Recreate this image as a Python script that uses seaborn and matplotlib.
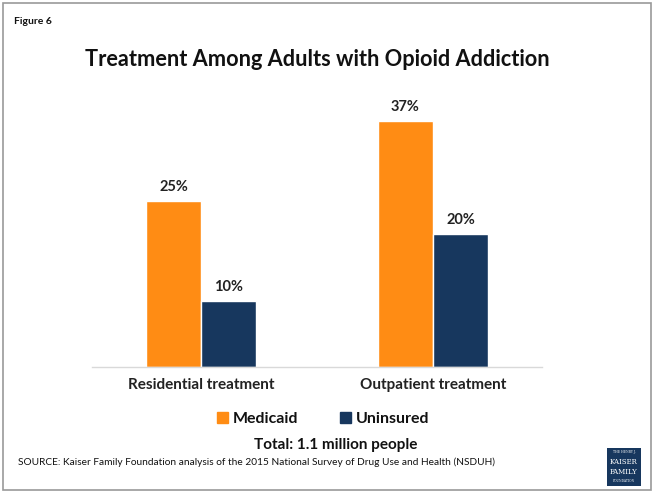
import matplotlib
matplotlib.use("Agg")
import matplotlib.pyplot as plt
import matplotlib.patches as mpatches
import seaborn as sns
import pandas as pd

# chart data
categories = ["Residential treatment", "Outpatient treatment"]
groups = ["Medicaid", "Uninsured"]
medicaid = [25, 37]
uninsured = [10, 20]
colors = ["#FF8C14", "#17375E"]

df = pd.DataFrame({
    "Category": categories * 2,
    "Group": [groups[0]] * 2 + [groups[1]] * 2,
    "Value": medicaid + uninsured,
})

sns.set_theme(style="white")
plt.rcParams["font.family"] = ["Lato", "DejaVu Sans"]

fig = plt.figure(figsize=(6.54, 4.93), dpi=100)
ax = fig.add_axes([92 / 654, 1 - 367 / 493, 450 / 654, 266 / 493])

sns.barplot(data=df, x="Category", y="Value", hue="Group", palette=colors,
            width=0.474, gap=0, saturation=1, ax=ax, legend=False)

ax.set_ylim(0, 40)
ax.set_xlim(-0.47, 1.47)
ax.set_xlabel("")
ax.set_ylabel("")
ax.set_yticks([])
ax.set_xticks([])
for s in ["top", "left", "right"]:
    ax.spines[s].set_visible(False)
ax.spines["bottom"].set_color("#d9d9d9")
ax.spines["bottom"].set_linewidth(1)

# value labels
for cont in ax.containers:
    ax.bar_label(cont, labels=[f"{v:.0f}%" for v in cont.datavalues],
                 padding=5, fontsize=10.5, fontweight="bold", color="#222222")

# category labels
for i, c in enumerate(categories):
    ax.text(i, -2.7, c, ha="center", va="center", fontsize=11,
            fontweight="bold", color="#222222")

# legend
handles = [mpatches.Patch(color=colors[0], label=groups[0]),
           mpatches.Patch(color=colors[1], label=groups[1])]
leg = fig.legend(handles=handles, loc="center", bbox_to_anchor=(323 / 654, 1 - 419 / 493),
                 ncol=2, frameon=False, handlelength=0.7, handleheight=0.7,
                 handletextpad=0.3, columnspacing=2.6, fontsize=11.5)
for t in leg.get_texts():
    t.set_fontweight("bold")
    t.set_color("#111111")

# frame around the figure
fig.patches.append(mpatches.Rectangle((0.004, 0.006), 0.992, 0.988, transform=fig.transFigure,
                                      fill=False, edgecolor="#999999", linewidth=1.2))

fig.text(14 / 654, 1 - 21 / 493, "Figure 6", fontsize=7.5, fontweight="bold",
         ha="left", va="center", color="#111111")
fig.text(317 / 654, 1 - 60 / 493, "Treatment Among Adults with Opioid Addiction",
         fontsize=15.7, fontweight="bold", ha="center", va="center", color="#111111")
fig.text(336 / 654, 1 - 445 / 493, "Total: 1.1 million people", fontsize=11,
         fontweight="bold", ha="center", va="center", color="#111111")
fig.text(18 / 654, 1 - 462 / 493,
         "SOURCE: Kaiser Family Foundation analysis of the 2015 National Survey of Drug Use and Health (NSDUH)",
         fontsize=7.3, ha="left", va="center", color="#111111")

# logo
fig.patches.append(mpatches.Rectangle((607 / 654, 1 - 486 / 493), 34 / 654, 38 / 493,
                                      transform=fig.transFigure, facecolor="#17375E",
                                      edgecolor="none"))
fig.text(624 / 654, 1 - 452 / 493, "THE HENRY J.", fontsize=2.2, color="white",
         ha="center", va="center", family="DejaVu Serif")
fig.text(624 / 654, 1 - 462 / 493, "KAISER", fontsize=5, color="white",
         ha="center", va="center", family="DejaVu Serif")
fig.text(624 / 654, 1 - 472 / 493, "FAMILY", fontsize=5, color="white",
         ha="center", va="center", family="DejaVu Serif")
fig.text(624 / 654, 1 - 481 / 493, "FOUNDATION", fontsize=2.2, color="white",
         ha="center", va="center", family="DejaVu Serif")

fig.savefig("out.png", dpi=100)
